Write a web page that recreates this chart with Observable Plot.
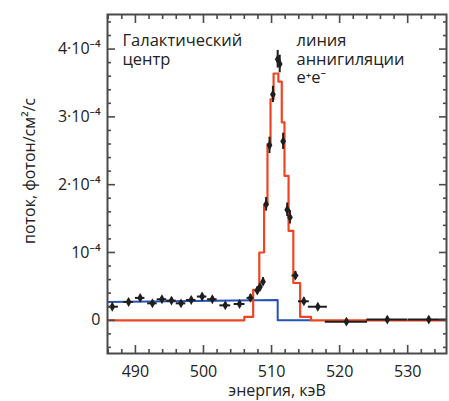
<!DOCTYPE html>
<html>
<head>
<meta charset="utf-8">
<script src="https://cdn.jsdelivr.net/npm/d3@7"></script>
<script src="https://cdn.jsdelivr.net/npm/@observablehq/plot@0.6"></script>
<style>
  html, body { margin: 0; padding: 0; background: #fff; }
  #chart { width: 449px; height: 401px; }
</style>
</head>
<body>
<div id="chart"></div>
<script>
// ---- data (flux in units of 1e-4 photon/cm²/s) ----
const energy    = [486.6, 489.0, 490.7, 492.5, 493.9, 495.3, 496.7, 498.2, 499.8, 501.3, 503.2, 505.3, 506.9, 507.9, 508.3, 508.75, 509.2, 509.7, 510.2, 510.9, 511.2, 511.7, 512.3, 512.7, 513.5, 514.75, 516.8, 521.0, 527.0, 533.1];
const flux      = [0.20, 0.27, 0.33, 0.25, 0.31, 0.29, 0.25, 0.30, 0.35, 0.31, 0.22, 0.24, 0.33, 0.44, 0.49, 0.57, 1.71, 2.58, 3.33, 3.85, 3.78, 2.64, 1.63, 1.52, 0.66, 0.28, 0.20, -0.02, 0.01, 0.01];
const energyErr = [0.9, 0.7, 0.7, 0.7, 0.7, 0.7, 0.7, 0.7, 0.7, 0.7, 0.8, 0.8, 0.5, 0.3, 0.2, 0.2, 0.15, 0.15, 0.15, 0.15, 0.15, 0.2, 0.2, 0.2, 0.5, 0.8, 1.4, 3.1, 3.0, 3.0];
const fluxErr   = [0.04, 0.04, 0.04, 0.04, 0.04, 0.04, 0.04, 0.04, 0.04, 0.04, 0.04, 0.04, 0.05, 0.05, 0.05, 0.06, 0.1, 0.12, 0.12, 0.13, 0.13, 0.12, 0.1, 0.1, 0.06, 0.05, 0.04, 0.04, 0.04, 0.04];

// red model: step edges and level after each edge
const modelEdges  = [485.9, 506.0, 507.3, 508.2, 508.9, 509.4, 509.85, 510.3, 511.0, 511.5, 511.9, 512.5, 513.2, 514.2, 515.8, 535.7];
const modelLevels = [0, 0.05, 0.45, 1.0, 1.7, 2.6, 3.26, 3.64, 3.52, 2.92, 2.13, 1.32, 0.55, 0.05, 0, 0];

// blue continuum
const contEnergy = [485.9, 510.9, 510.9, 515.8];
const contFlux   = [0.27, 0.30, 0, 0];

// ticks and labels
const xMajor = [490, 500, 510, 520, 530];
const xMinor = [486, 488, 492, 494, 496, 498, 502, 504, 506, 508, 512, 514, 516, 518, 522, 524, 526, 528, 532, 534];
const yMajor = [0, 1, 2, 3, 4];
const yMajorLabels = ["0", "10⁻⁴", "2·10⁻⁴", "3·10⁻⁴", "4·10⁻⁴"];
const yMinor = [-0.4, -0.2, 0.2, 0.4, 0.6, 0.8, 1.2, 1.4, 1.6, 1.8, 2.2, 2.4, 2.6, 2.8, 3.2, 3.4, 3.6, 3.8, 4.2, 4.4];
const xLabel = "энергия, кэВ";
const yLabel = ["поток, фотон/см²/с"];
const noteLeft = ["Галактический\nцентр"];
const noteRight = ["линия\nаннигиляции\ne⁺e⁻"];

// ---- build tables ----
const points = energy.map((e, i) => ({e, v: flux[i], ex: energyErr[i], ey: fluxErr[i]}));
const model = modelEdges.map((e, i) => ({e, v: modelLevels[i]}));
const cont = contEnergy.map((e, i) => ({e, v: contFlux[i]}));

const frameColor = "#4a4a4a";
const red = "#ee4523";
const blue = "#2452b5";
const ink = "#1e1e1e";

const chart = Plot.plot({
  width: 449,
  height: 401,
  marginLeft: 107,
  marginRight: 3,
  marginTop: 14,
  marginBottom: 48,
  style: {fontFamily: "'Open Sans', 'Noto Sans', sans-serif", fontSize: "16px", color: "#222", background: "#fff"},
  x: {domain: [485.9, 535.7]},
  y: {domain: [-0.49, 4.51]},
  marks: [
    // continuum and model
    Plot.line(cont, {x: "e", y: "v", stroke: blue, strokeWidth: 2, clip: true}),
    Plot.line(model, {x: "e", y: "v", curve: "step-after", stroke: red, strokeWidth: 2.2, clip: true}),
    // error bars
    Plot.ruleY(points, {y: "v", x1: d => d.e - d.ex, x2: d => d.e + d.ex, stroke: ink, strokeWidth: 2, clip: true}),
    Plot.ruleX(points, {x: "e", y1: d => d.v - d.ey, y2: d => d.v + d.ey, stroke: ink, strokeWidth: 2, clip: true}),
    Plot.dot(points, {x: "e", y: "v", symbol: "diamond", r: 3, fill: ink, stroke: null}),
    // frame
    Plot.frame({stroke: frameColor, strokeWidth: 2}),
    // inward ticks: bottom / top
    Plot.axisX({anchor: "bottom", ticks: xMajor, tickSize: 8, dy: -8, text: null, label: null, stroke: frameColor, strokeWidth: 1.6}),
    Plot.axisX({anchor: "bottom", ticks: xMinor, tickSize: 4, dy: -4, text: null, label: null, stroke: frameColor, strokeWidth: 1.6}),
    Plot.axisX({anchor: "top", ticks: xMajor, tickSize: 8, dy: 8, text: null, label: null, stroke: frameColor, strokeWidth: 1.6}),
    Plot.axisX({anchor: "top", ticks: xMinor, tickSize: 4, dy: 4, text: null, label: null, stroke: frameColor, strokeWidth: 1.6}),
    // inward ticks: left / right
    Plot.axisY({anchor: "left", ticks: yMajor, tickSize: 8, dx: 8, text: null, label: null, stroke: frameColor, strokeWidth: 1.6}),
    Plot.axisY({anchor: "left", ticks: yMinor, tickSize: 4, dx: 4, text: null, label: null, stroke: frameColor, strokeWidth: 1.6}),
    Plot.axisY({anchor: "right", ticks: yMajor, tickSize: 8, dx: -8, text: null, label: null, stroke: frameColor, strokeWidth: 1.6}),
    Plot.axisY({anchor: "right", ticks: yMinor, tickSize: 4, dx: -4, text: null, label: null, stroke: frameColor, strokeWidth: 1.6}),
    // tick labels
    Plot.axisX({anchor: "bottom", ticks: xMajor, tickSize: 0, tickPadding: 12, tickFormat: d => String(d), label: xLabel, labelAnchor: "center", labelArrow: "none", labelOffset: 42, fontSize: 16, fill: "#222"}),
    Plot.axisY({anchor: "left", ticks: yMajor, tickSize: 0, tickPadding: 7, tickFormat: (d, i) => yMajorLabels[yMajor.indexOf(d)], label: null, fontSize: 16, fill: "#222"}),
    // y label
    Plot.text(yLabel, {frameAnchor: "left", textAnchor: "middle", lineAnchor: "middle", rotate: -90, dx: -78, dy: -13, fontSize: 16, fill: "#222"}),
    // annotations
    Plot.text(noteLeft, {frameAnchor: "top-left", textAnchor: "start", lineAnchor: "top", dx: 15, dy: 19, fontSize: 16.5, lineHeight: 1.1, fill: "#222"}),
    Plot.text(noteRight, {frameAnchor: "top-left", textAnchor: "start", lineAnchor: "top", dx: 189, dy: 19, fontSize: 16.5, lineHeight: 1.1, fill: "#222"})
  ]
});
document.getElementById("chart").appendChild(chart);
</script>
</body>
</html>
